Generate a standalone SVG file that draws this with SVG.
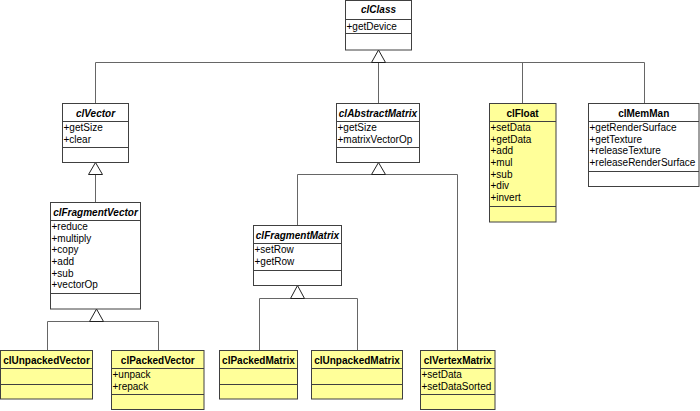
<svg xmlns="http://www.w3.org/2000/svg" width="700" height="411" viewBox="0 0 700 411">
<style>
  text { font-family: "Liberation Sans", Arial, sans-serif; font-size: 10px; fill: #000; }
  .t { font-weight: bold; text-anchor: middle; }
  .i { font-style: italic; }
  .box { fill: #ffffff; stroke: #404040; stroke-width: 1; }
  .y { fill: #ffff99; }
  .div { stroke: #404040; stroke-width: 1; fill: none; }
  .ln { stroke: #666666; stroke-width: 1; fill: none; }
  .tri { fill: #ffffff; stroke: #202020; stroke-width: 1; }
</style>
<rect width="700" height="411" fill="#ffffff"/>

<g id="connectors">
  <path class="ln" d="M95.5,62.5 H644.5 M95.5,62.5 V103.5 M378.5,62.5 V103.5 M522.5,62.5 V103.5 M644.5,62.5 V103.5"/>
  <polygon class="tri" points="378.5,50 371.5,62.5 385.5,62.5"/>
  <path class="ln" d="M95.5,174.5 V202.5"/>
  <polygon class="tri" points="95.5,162.5 88.5,174.5 102.5,174.5"/>
  <path class="ln" d="M297.5,174.5 H457.5 M297.5,174.5 V225.5 M457.5,174.5 V350.5"/>
  <polygon class="tri" points="378.5,162.5 371.5,174.5 385.5,174.5"/>
  <path class="ln" d="M47.5,321.5 H158.5 M47.5,321.5 V350.5 M158.5,321.5 V350.5"/>
  <polygon class="tri" points="96.5,309 89.5,321.5 103.5,321.5"/>
  <path class="ln" d="M259.5,298.5 H357.5 M259.5,298.5 V350.5 M357.5,298.5 V350.5"/>
  <polygon class="tri" points="297.5,285.5 290.5,298.5 304.5,298.5"/>
</g>

<g id="clClass">
  <rect class="box" x="345.5" y="0.5" width="66" height="49.5"/>
  <path class="div" d="M345.5,19.5 H411.5 M345.5,33.5 H411.5"/>
  <text class="t i" x="378.5" y="13">clClass</text>
  <text x="346.5" y="29.5">+getDevice</text>
</g>

<g id="clVector">
  <rect class="box" x="62.5" y="103.5" width="66" height="59"/>
  <path class="div" d="M62.5,121.5 H128.5 M62.5,147.5 H128.5"/>
  <text class="t i" x="95.5" y="116.5">clVector</text>
  <text x="63.5" y="130.8">+getSize</text>
  <text x="63.5" y="142.5">+clear</text>
</g>

<g id="clAbstractMatrix">
  <rect class="box" x="336.5" y="103.5" width="83" height="59"/>
  <path class="div" d="M336.5,121.5 H419.5 M336.5,147.5 H419.5"/>
  <text class="t i" x="378" y="116.5">clAbstractMatrix</text>
  <text x="337.5" y="130.8">+getSize</text>
  <text x="337.5" y="142.5">+matrixVectorOp</text>
</g>

<g id="clFloat">
  <rect class="box y" x="489.5" y="103.5" width="66.5" height="118.5"/>
  <path class="div" d="M489.5,121.5 H556 M489.5,206.5 H556"/>
  <text class="t" x="522.5" y="116.5">clFloat</text>
  <text x="490.5" y="130.8">+setData</text>
  <text x="490.5" y="142.5">+getData</text>
  <text x="490.5" y="154.2">+add</text>
  <text x="490.5" y="165.9">+mul</text>
  <text x="490.5" y="177.6">+sub</text>
  <text x="490.5" y="189.3">+div</text>
  <text x="490.5" y="201">+invert</text>
</g>

<g id="clMemMan">
  <rect class="box" x="588.5" y="103.5" width="110.5" height="83"/>
  <path class="div" d="M588.5,121.5 H699 M588.5,171.5 H699"/>
  <text class="t" x="643.7" y="116.5">clMemMan</text>
  <text x="589.5" y="130.8">+getRenderSurface</text>
  <text x="589.5" y="142.5">+getTexture</text>
  <text x="589.5" y="154.2">+releaseTexture</text>
  <text x="589.5" y="165.9">+releaseRenderSurface</text>
</g>

<g id="clFragmentVector">
  <rect class="box" x="50.5" y="202.5" width="90" height="106.5"/>
  <path class="div" d="M50.5,220.5 H140.5 M50.5,293.5 H140.5"/>
  <text class="t i" x="95.5" y="215.5">clFragmentVector</text>
  <text x="51.5" y="229.8">+reduce</text>
  <text x="51.5" y="241.5">+multiply</text>
  <text x="51.5" y="253.2">+copy</text>
  <text x="51.5" y="264.9">+add</text>
  <text x="51.5" y="276.6">+sub</text>
  <text x="51.5" y="288.3">+vectorOp</text>
</g>

<g id="clFragmentMatrix">
  <rect class="box" x="253.5" y="225.5" width="88" height="60"/>
  <path class="div" d="M253.5,243.5 H341.5 M253.5,270.5 H341.5"/>
  <text class="t i" x="297.5" y="238.5">clFragmentMatrix</text>
  <text x="254.5" y="252.8">+setRow</text>
  <text x="254.5" y="264.5">+getRow</text>
</g>

<g id="clUnpackedVector">
  <rect class="box y" x="0.5" y="350.5" width="92" height="48.5"/>
  <path class="div" d="M0.5,368.5 H92.5 M0.5,384.5 H92.5"/>
  <text class="t" x="46.5" y="363.5">clUnpackedVector</text>
</g>

<g id="clPackedVector">
  <rect class="box y" x="111.5" y="350.5" width="92.5" height="59"/>
  <path class="div" d="M111.5,368.5 H204 M111.5,394.5 H204"/>
  <text class="t" x="157.8" y="363.5">clPackedVector</text>
  <text x="112.5" y="377.8">+unpack</text>
  <text x="112.5" y="389.5">+repack</text>
</g>

<g id="clPackedMatrix">
  <rect class="box y" x="219.5" y="350.5" width="78" height="48.5"/>
  <path class="div" d="M219.5,368.5 H297.5 M219.5,384.5 H297.5"/>
  <text class="t" x="258.5" y="363.5">clPackedMatrix</text>
</g>

<g id="clUnpackedMatrix">
  <rect class="box y" x="311.5" y="350.5" width="91" height="48.5"/>
  <path class="div" d="M311.5,368.5 H402.5 M311.5,384.5 H402.5"/>
  <text class="t" x="357" y="363.5">clUnpackedMatrix</text>
</g>

<g id="clVertexMatrix">
  <rect class="box y" x="420.5" y="350.5" width="74.5" height="59"/>
  <path class="div" d="M420.5,368.5 H495 M420.5,394.5 H495"/>
  <text class="t" x="457.7" y="363.5">clVertexMatrix</text>
  <text x="421.5" y="377.8">+setData</text>
  <text x="421.5" y="389.5">+setDataSorted</text>
</g>
</svg>
